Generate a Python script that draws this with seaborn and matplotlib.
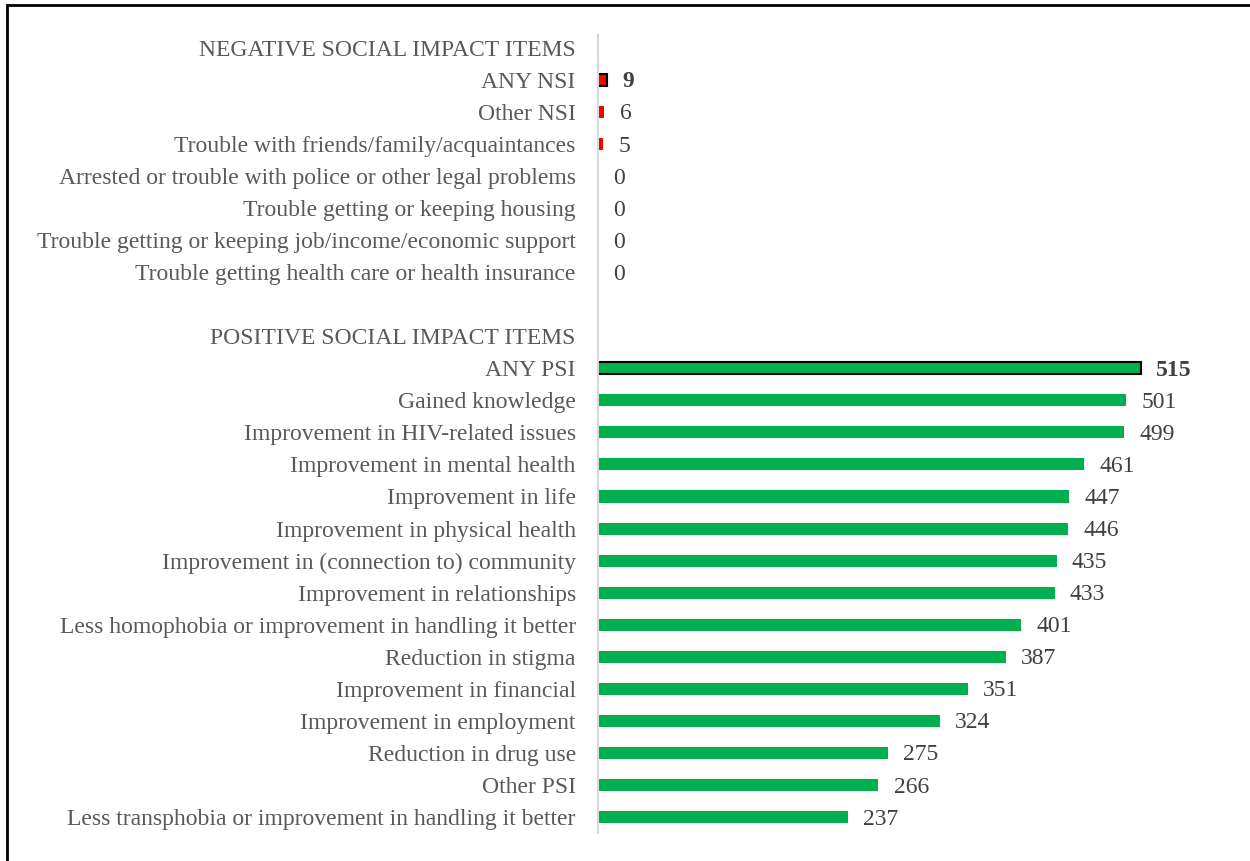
import matplotlib
matplotlib.use("Agg")
import matplotlib.pyplot as plt
import seaborn as sns
import pandas as pd
from matplotlib.patches import Rectangle

# ---- data ----
neg_header = "NEGATIVE SOCIAL IMPACT ITEMS"
neg_labels = ["ANY NSI", "Other NSI", "Trouble with friends/family/acquaintances",
              "Arrested or trouble with police or other legal problems",
              "Trouble getting or keeping housing",
              "Trouble getting or keeping job/income/economic support",
              "Trouble getting health care or health insurance"]
neg_values = [9, 6, 5, 0, 0, 0, 0]

pos_header = "POSITIVE SOCIAL IMPACT ITEMS"
pos_labels = ["ANY PSI", "Gained knowledge", "Improvement in HIV-related issues",
              "Improvement in mental health", "Improvement in life",
              "Improvement in physical health", "Improvement in (connection to) community",
              "Improvement in relationships",
              "Less homophobia or improvement in handling it better",
              "Reduction in stigma", "Improvement in financial",
              "Improvement in employment", "Reduction in drug use", "Other PSI",
              "Less transphobia or improvement in handling it better"]
pos_values = [515, 501, 499, 461, 447, 446, 435, 433, 401, 387, 351, 324, 275, 266, 237]

RED = "#FF0000"
GREEN = "#00B050"
LABEL_COLOR = "#595959"
VALUE_COLOR = "#404040"
FS = 17

labels = [neg_header] + neg_labels + [" "] + [pos_header] + pos_labels
values = [0] + neg_values + [0] + [0] + pos_values
shown = [False] + [True] * len(neg_labels) + [False, False] + [True] * len(pos_labels)
colors = ["white"] + [RED] * len(neg_labels) + ["white", "white"] + [GREEN] * len(pos_labels)
bold = {"ANY NSI", "ANY PSI"}

df = pd.DataFrame({"label": labels, "value": values})
palette = dict(zip(labels, colors))

fig = plt.figure(figsize=(12.5, 8.61), dpi=100)
ax = fig.add_axes([598 / 1250, 1 - 833 / 861, 1 - 598 / 1250 - 0.0155, (833 - 35) / 861])

sns.barplot(data=df, y="label", x="value", hue="label", palette=palette,
            legend=False, orient="h", width=0.375, order=labels, hue_order=labels,
            ax=ax, saturation=1)

for p in ax.patches:
    yc = p.get_y() + p.get_height() / 2
    idx = int(round(yc))
    if labels[idx] in bold:
        p.set_edgecolor("black")
        p.set_linewidth(1.5)
    else:
        p.set_linewidth(0)

for i, (lab, v, s) in enumerate(zip(labels, values, shown)):
    if not s:
        continue
    ax.annotate(str(v), xy=(v, i), xytext=(11, -1.5), textcoords="offset points",
                ha="left", va="center", fontsize=FS, family="Liberation Serif",
                color=VALUE_COLOR, fontweight="bold" if lab in bold else "normal")

ax.set_xlim(0, 600)
ax.set_ylim(24.5, -0.4)
ax.set_xlabel("")
ax.set_ylabel("")
ax.xaxis.set_visible(False)
ax.tick_params(axis="y", length=0, pad=16)
for t in ax.get_yticklabels():
    t.set_fontfamily("Liberation Serif")
    t.set_fontsize(FS)
    t.set_color(LABEL_COLOR)
for sp in ["top", "right", "bottom"]:
    ax.spines[sp].set_visible(False)
ax.spines["left"].set_color("#d9d9d9")
ax.spines["left"].set_linewidth(1.5)
ax.set_facecolor("none")

# outer frame (clipped at right/bottom as in the reference)
fig.patches.append(Rectangle((7 / 1250, -0.05), 1.2, 1 - 5 / 861 + 0.05,
                             transform=fig.transFigure, fill=False,
                             edgecolor="black", linewidth=2))

fig.savefig("out.png", dpi=100)
